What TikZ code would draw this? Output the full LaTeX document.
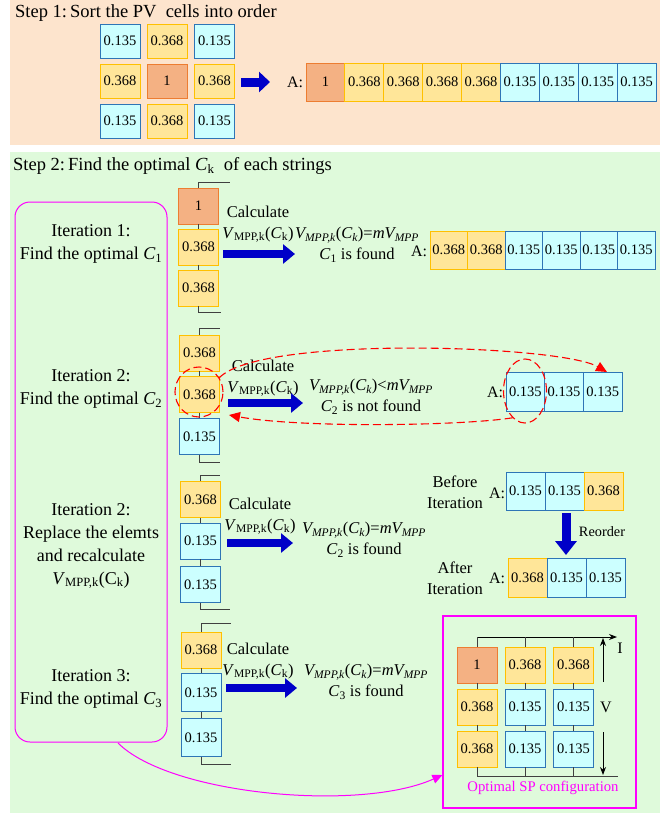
\documentclass[tikz,border=0pt]{standalone}
\usepackage{fontspec}
\setmainfont{Liberation Serif}
\usetikzlibrary{arrows.meta,shapes.geometric}
\definecolor{peach}{HTML}{FDE4CD}
\definecolor{mint}{HTML}{DFFADB}
\definecolor{orF}{HTML}{F4B183}
\definecolor{orD}{HTML}{ED7D31}
\definecolor{yeF}{HTML}{FFE699}
\definecolor{yeD}{HTML}{FFC000}
\definecolor{cyF}{HTML}{CCFFFF}
\definecolor{cyD}{HTML}{2E75B6}
\definecolor{bluA}{HTML}{0000C8}
\definecolor{wireC}{HTML}{404040}
\definecolor{pinkM}{HTML}{FF00FF}
\newcommand{\VCalc}{\textit{V}\textsubscript{MPP,k}(\textit{C}\textsubscript{k})}
\newcommand{\VItal}{{\itshape V\textsubscript{MPP,k}}(\textit{C\textsubscript{k}})}
\begin{document}
\begin{tikzpicture}[x=1pt,y=-1pt,
 cell/.style={draw,line width=0.9pt,inner sep=0pt,font=\fontsize{14.5}{16}\selectfont,minimum width=40pt,minimum height=36pt},
 cellO/.style={cell,fill=orF,draw=orD},
 cellY/.style={cell,fill=yeF,draw=yeD},
 cellC/.style={cell,fill=cyF,draw=cyD},
 wire/.style={draw=wireC,line width=0.9pt},
 barrow/.style={draw=bluA,line width=8pt,-{Triangle[width=19pt,length=12pt]}},
 thinarrow/.style={draw=black,line width=0.9pt,-{Stealth[length=8pt,width=6pt]}},
 lbl/.style={align=center,inner sep=0pt,font=\fontsize{16.5}{21}\selectfont},
 itl/.style={align=center,inner sep=0pt,font=\fontsize{18}{23}\selectfont},
 hdr/.style={anchor=base west,inner sep=0pt,font=\fontsize{18.5}{22}\selectfont},
 alab/.style={inner sep=0pt,font=\fontsize{16}{19}\selectfont},
 reddash/.style={draw=red,line width=1.1pt,dash pattern=on 8pt off 4pt},
 redell/.style={reddash,ellipse,inner sep=0pt},
]
\useasboundingbox (0,0) rectangle (669,816);
% backgrounds
\fill[peach] (10,0) rectangle (660,145);
\fill[mint] (10,152) rectangle (660,813);

% ---------- Step 1 ----------
\node[hdr] (h1) at (15,18) {Step 1:\,Sort the PV\ \ cells into order};
\node[cellC,minimum height=34pt] (g11) at (120,41) {0.135};
\node[cellY,minimum height=34pt] (g12) at (167,41) {0.368};
\node[cellC,minimum height=34pt] (g13) at (214.5,41) {0.135};
\node[cellY,minimum height=34pt] (g21) at (120,81) {0.368};
\node[cellO,minimum height=34pt] (g22) at (167,81) {1};
\node[cellY,minimum height=34pt] (g23) at (214.5,81) {0.368};
\node[cellC,minimum height=34pt] (g31) at (120,121) {0.135};
\node[cellY,minimum height=34pt] (g32) at (167,121) {0.368};
\node[cellC,minimum height=34pt] (g33) at (214.5,121) {0.135};
\coordinate (s1a) at (241,82);
\coordinate (s1b) at (270,82);
\draw[barrow,line width=9pt,-{Triangle[width=20pt,length=11pt]}] (s1a) -- (s1b);
\node[alab] (A0) at (295,82) {A:};
\foreach \i/\s/\t in {0/cellO/1,1/cellY/0.368,2/cellY/0.368,3/cellY/0.368,4/cellY/0.368,5/cellC/0.135,6/cellC/0.135,7/cellC/0.135,8/cellC/0.135}
  \node[\s,minimum width=38.9pt,minimum height=38pt] (r\i) at ({325.45+38.9*\i},82) {\t};

% ---------- Step 2 ----------
\node[hdr] (h2) at (13,170) {Step 2:\,Find the optimal \textit{C}\textsubscript{k}\ \ of each strings};
\draw[draw=pinkM,line width=1pt,rounded corners=15pt] (15,202) rectangle (167,742);
\node[itl] (it1) at (91,244) {Iteration 1:\\Find the optimal \textit{C}\textsubscript{1}};
\node[itl] (it2) at (91,389) {Iteration 2:\\Find the optimal \textit{C}\textsubscript{2}};
\node[itl] (it2b) at (91,546) {Iteration 2:\\Replace the elemts\\and recalculate\\\textit{V}\textsubscript{MPP,k}(C\textsubscript{k})};
\node[itl] (it3) at (91,689) {Iteration 3:\\Find the optimal \textit{C}\textsubscript{3}};

% string 1
\node[cellO] (a1) at (198.5,206) {1};
\node[cellY] (a2) at (198.5,247) {0.368};
\node[cellY] (a3) at (198.5,288) {0.368};
\coordinate (a1t) at (230,182);
\coordinate (a1b) at (221,312);
\draw[wire] (a1.north) |- (a1t);
\draw[wire] (a1.south) -- (a2.north);
\draw[wire] (a2.south) -- (a3.north);
\draw[wire] (a3.south) |- (a1b);
\node[lbl] (c1) at (258,224) {Calculate\\\VCalc};
\coordinate (ar1s) at (223,254);
\coordinate (ar1e) at (295,254);
\draw[barrow] (ar1s) -- (ar1e);
\node[lbl] (res1) at (357,245) {\VItal=\textit{mV\textsubscript{MPP}}\\\textit{C}\textsubscript{1} is found};
\node[alab] (A1) at (419,251) {A:};
\foreach \i/\s/\t in {0/cellY/0.368,1/cellY/0.368,2/cellC/0.135,3/cellC/0.135,4/cellC/0.135,5/cellC/0.135}
  \node[\s,minimum width=37.5pt,minimum height=38pt] (p\i) at ({448.75+37.5*\i},250) {\t};

% string 2
\node[cellY] (b1) at (199.5,353) {0.368};
\node[cellY] (b2) at (199.5,394.5) {0.368};
\node[cellC] (b3) at (199.5,436.5) {0.135};
\coordinate (b1t) at (220,328);
\coordinate (b1b) at (220,462);
\draw[wire] (b1.north) |- (b1t);
\draw[wire] (b1.south) -- (b2.north);
\draw[wire] (b2.south) -- (b3.north);
\draw[wire] (b3.south) |- (b1b);
\node[lbl] (c2) at (263,378) {Calculate\\\VCalc};
\coordinate (ar2s) at (228,403);
\coordinate (ar2e) at (303,403);
\draw[barrow] (ar2s) -- (ar2e);
\node[lbl] (res2) at (371,397) {\VItal<\textit{mV\textsubscript{MPP}}\\\textit{C}\textsubscript{2} is not found};
\node[alab] (A2) at (495,392) {A:};
\foreach \i in {0,1,2}
  \node[cellC,minimum width=38.7pt,minimum height=39pt] (q\i) at ({525.35+38.7*\i},391.5) {0.135};
\node[redell,minimum width=48pt,minimum height=50pt] (e1) at (199,392) {};
\node[redell,minimum width=43pt,minimum height=64pt] (e2) at (525,391) {};
\coordinate (rt) at (607,372);
\coordinate (rb) at (229,415);
\draw[reddash,-{Triangle[width=10pt,length=11pt]}] (e1.35) .. controls (260,335) and (560,345) .. (rt);
\draw[reddash,-{Triangle[width=10pt,length=11pt]}] (e2.245) .. controls (460,426) and (300,428) .. (rb);

% string 3
\node[cellY] (d1) at (200.5,499.5) {0.368};
\node[cellC] (d2) at (200.5,541) {0.135};
\node[cellC] (d3) at (200.5,584.5) {0.135};
\coordinate (d1t) at (220,475);
\coordinate (d1b) at (230,609);
\draw[wire] (d1.north) |- (d1t);
\draw[wire] (d1.south) -- (d2.north);
\draw[wire] (d2.south) -- (d3.north);
\draw[wire] (d3.south) |- (d1b);
\node[lbl] (c3) at (260,516) {Calculate\\\VCalc};
\coordinate (ar3s) at (227,543);
\coordinate (ar3e) at (293,543);
\draw[barrow] (ar3s) -- (ar3e);
\node[lbl] (res3) at (364,540) {\VItal=\textit{mV\textsubscript{MPP}}\\\textit{C}\textsubscript{2} is found};
\node[lbl] (bef) at (455,492) {Before\\Iteration};
\node[alab] (A3) at (497,493) {A:};
\foreach \i/\s/\t in {0/cellC/0.135,1/cellC/0.135,2/cellY/0.368}
  \node[\s,minimum width=39pt,minimum height=38pt] (u\i) at ({525.5+39*\i},491) {\t};
\coordinate (ro1) at (566,513);
\coordinate (ro2) at (566,555);
\draw[barrow,line width=9pt,-{Triangle[width=21pt,length=14pt]}] (ro1) -- (ro2);
\node[alab,font=\fontsize{14.3}{17}\selectfont] (reo) at (602,532) {Reorder};
\node[lbl] (aft) at (455,578) {After\\Iteration};
\node[alab] (A4) at (497,578) {A:};
\foreach \i/\s/\t in {0/cellY/0.368,1/cellC/0.135,2/cellC/0.135}
  \node[\s,minimum width=39pt,minimum height=39pt] (w\i) at ({527.5+39*\i},577.5) {\t};

% string 4
\node[cellY] (f1) at (201,650) {0.368};
\node[cellC,minimum height=38pt] (f2) at (201,692.5) {0.135};
\node[cellC,minimum height=38pt] (f3) at (201,737.5) {0.135};
\coordinate (f1t) at (231,623);
\coordinate (f1b) at (231,764);
\draw[wire] (f1.north) |- (f1t);
\draw[wire] (f1.south) -- (f2.north);
\draw[wire] (f2.south) -- (f3.north);
\draw[wire] (f3.south) |- (f1b);
\node[lbl] (c4) at (258,661) {Calculate\\\VCalc};
\coordinate (ar4s) at (226,688);
\coordinate (ar4e) at (297,688);
\draw[barrow] (ar4s) -- (ar4e);
\node[lbl] (res4) at (366,682) {\VItal=\textit{mV\textsubscript{MPP}}\\\textit{C}\textsubscript{3} is found};

% optimal SP configuration
\node[draw=pinkM,line width=1.2pt,minimum width=193pt,minimum height=192pt,inner sep=0pt] (spbox) at (539.5,712) {};
\draw[draw=pinkM,line width=1pt,-{Triangle[width=9pt,length=10pt]}] (118,743) .. controls (170,795) and (360,812) .. (spbox.west |- 0,775) coordinate (pk);
\node[cellO] (m11) at (477,665) {1};
\node[cellY] (m12) at (525,665) {0.368};
\node[cellY] (m13) at (573.5,665) {0.368};
\node[cellY] (m21) at (477,707) {0.368};
\node[cellC] (m22) at (525,707) {0.135};
\node[cellC] (m23) at (573.5,707) {0.135};
\node[cellY] (m31) at (477,749) {0.368};
\node[cellC] (m32) at (525,749) {0.135};
\node[cellC] (m33) at (573.5,749) {0.135};
\coordinate (btl) at (477,637);
\coordinate (btr) at (617,637);
\coordinate (bbl) at (477,776);
\coordinate (bbr) at (618,776);
\draw[thinarrow] (btl) -- (btr);
\draw[wire] (bbl) -- (bbr);
\foreach \c in {1,2,3} {
  \draw[wire] (m1\c.north) -- (m1\c.north |- btl);
  \draw[wire] (m1\c.south) -- (m2\c.north);
  \draw[wire] (m2\c.south) -- (m3\c.north);
  \draw[wire] (m3\c.south) -- (m3\c.south |- bbl);
}
\node[alab] (Vl) at (606,707) {V};
\node[alab] (Il) at (620,648) {I};
\coordinate (v1) at (603,682);
\coordinate (v2) at (603,638);
\coordinate (v3) at (603,732);
\coordinate (v4) at (603,775);
\draw[thinarrow] (v1) -- (v2);
\draw[thinarrow] (v3) -- (v4);
\node[alab,text=pinkM,font=\fontsize{14.7}{17}\selectfont] (opt) at (543,788) {Optimal SP configuration};
\end{tikzpicture}
\end{document}
